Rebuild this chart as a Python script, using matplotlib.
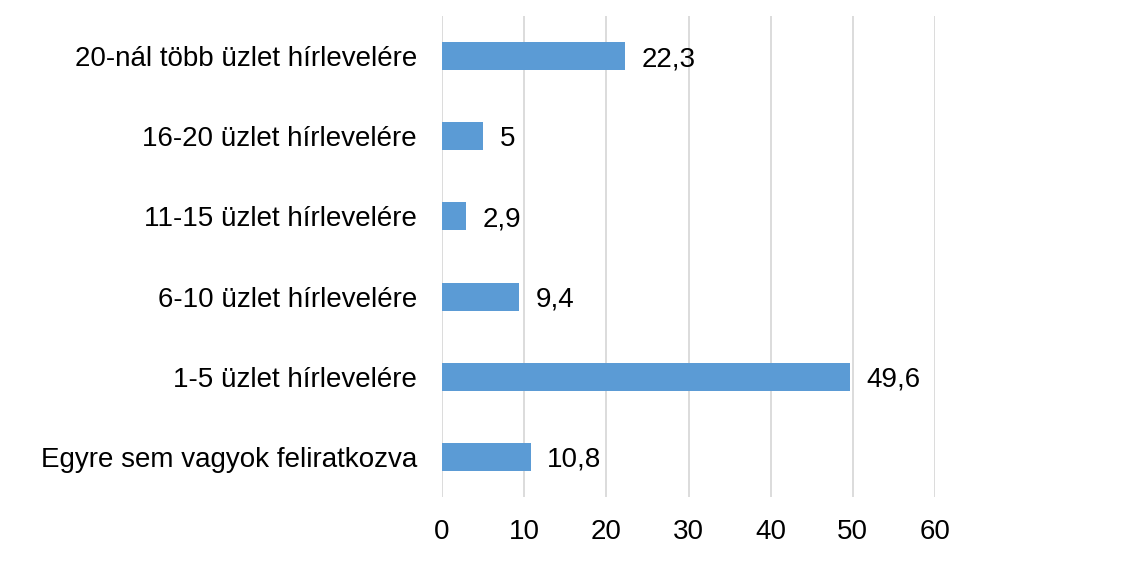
import matplotlib
matplotlib.use("Agg")
import matplotlib.pyplot as plt

categories = ["Egyre sem vagyok feliratkozva", "1-5 üzlet hírlevelére", "6-10 üzlet hírlevelére",
              "11-15 üzlet hírlevelére", "16-20 üzlet hírlevelére", "20-nál több üzlet hírlevelére"]
values = [10.8, 49.6, 9.4, 2.9, 5, 22.3]
labels = ["10,8", "49,6", "9,4", "2,9", "5", "22,3"]
xticks = [0, 10, 20, 30, 40, 50, 60]

plt.rcParams['font.family'] = ['Liberation Sans', 'DejaVu Sans']
fig = plt.figure(figsize=(11.24, 5.61), dpi=100)
ax = fig.add_axes([442/1124, 1-497/561, (935-442)/1124, (497-16)/561])
y = list(range(len(categories)))
ax.barh(y, values, height=0.35, color='#5B9BD5', zorder=3)
for yi, v, l in zip(y, values, labels):
    ax.text(v + 2, yi, l, va='center_baseline', ha='left', fontsize=20, color='black')
ax.set_xlim(0, 60)
ax.set_ylim(-0.5, len(categories) - 0.5)
ax.set_xticks(xticks)
ax.set_xticklabels([str(t) for t in xticks], fontsize=20)
ax.set_yticks(y)
ax.set_yticklabels(categories, fontsize=20)
ax.tick_params(axis='y', length=0, pad=18)
ax.tick_params(axis='x', length=0, pad=16)
ax.grid(axis='x', color='#D9D9D9', linewidth=1.3, zorder=0)
for s in ax.spines.values():
    s.set_visible(False)
fig.savefig("out.png", dpi=100)
